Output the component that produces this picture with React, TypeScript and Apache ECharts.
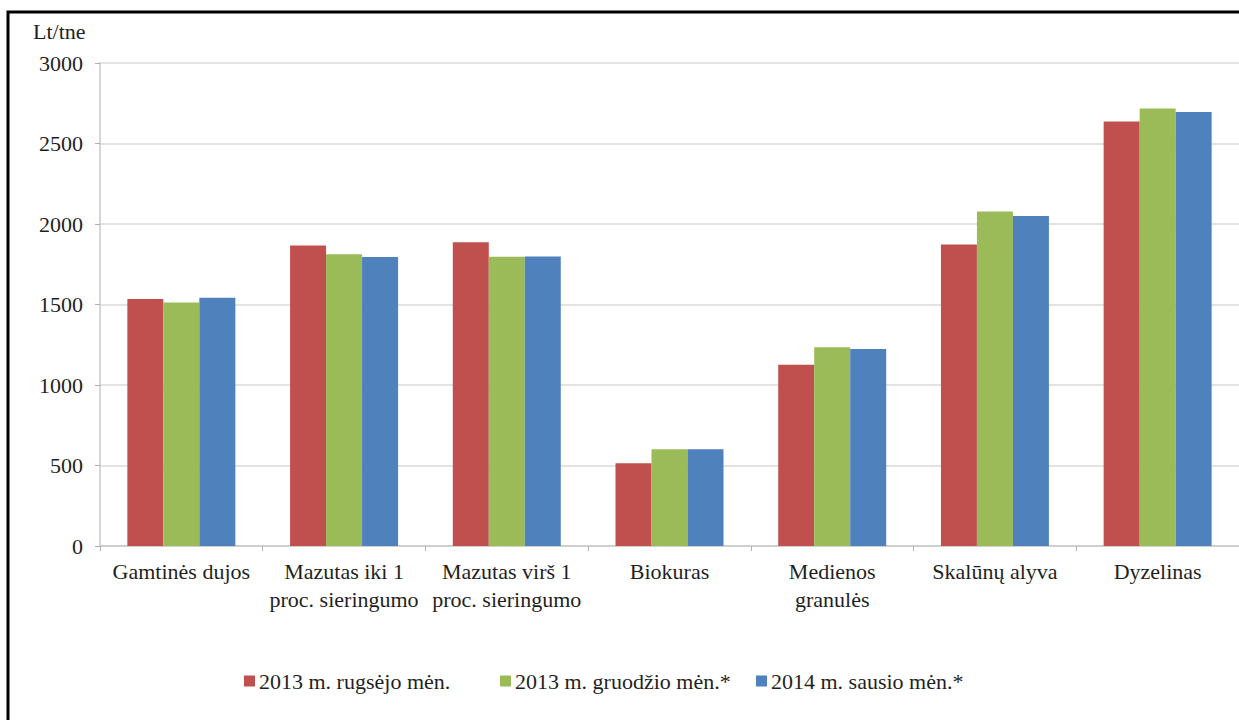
import React, { useEffect, useRef } from "react";
import * as echarts from "echarts";

// Fuel price categories (Lt per tonne of oil equivalent)
const categories = [
  "Gamtinės dujos",
  "Mazutas iki 1\nproc. sieringumo",
  "Mazutas virš 1\nproc. sieringumo",
  "Biokuras",
  "Medienos\ngranulės",
  "Skalūnų alyva",
  "Dyzelinas",
];

const seriesNames = [
  "2013 m. rugsėjo mėn.",
  "2013 m. gruodžio mėn.*",
  "2014 m. sausio mėn.*",
];

const sep2013 = [1534, 1866, 1886, 514, 1126, 1872, 2636];
const dec2013 = [1512, 1812, 1797, 601, 1234, 2077, 2718];
const jan2014 = [1542, 1795, 1798, 601, 1224, 2050, 2696];

const colors = ["#C0504D", "#9BBB59", "#4F81BD"];

const yMin = 0;
const yMax = 3000;
const yStep = 500;
const unitLabel = "Lt/tne";

const FONT = "Liberation Serif, Times New Roman, serif";
const TEXT_COLOR = "#1f1f1f";
const FONT_SIZE = 22;

// Legend entries sit in equal-width slots, one legend block per series
const LEGEND_LEFT = 244;
const LEGEND_SLOT = 256;

export default function App() {
  const ref = useRef<HTMLDivElement>(null);

  useEffect(() => {
    if (!ref.current) return;
    const chart = echarts.init(ref.current, null, { renderer: "svg" });
    const values = [sep2013, dec2013, jan2014];

    chart.setOption({
      animation: false,
      backgroundColor: "#ffffff",
      textStyle: { fontFamily: FONT },
      grid: { left: 100, right: -2, top: 63, bottom: 174, containLabel: false },
      legend: seriesNames.map((name, i) => ({
        left: LEGEND_LEFT + i * LEGEND_SLOT,
        top: 670,
        padding: 0,
        itemWidth: 11,
        itemHeight: 11,
        icon: "rect",
        textStyle: {
          fontFamily: FONT,
          fontSize: FONT_SIZE,
          color: TEXT_COLOR,
          padding: [0, 0, 0, -1],
        },
        data: [name],
      })),
      xAxis: {
        type: "category",
        data: categories,
        axisLine: { show: true, lineStyle: { color: "#c8c8c8", width: 1.5 } },
        axisTick: { show: true, length: 5, lineStyle: { color: "#b0b0b0" } },
        axisLabel: {
          interval: 0,
          margin: 11,
          fontFamily: FONT,
          fontSize: FONT_SIZE,
          lineHeight: 28,
          color: TEXT_COLOR,
        },
      },
      yAxis: {
        type: "value",
        min: yMin,
        max: yMax,
        interval: yStep,
        axisLine: { show: true, lineStyle: { color: "#c8c8c8", width: 1.5 } },
        axisTick: { show: true, length: 5, lineStyle: { color: "#b0b0b0" } },
        axisLabel: {
          margin: 17,
          fontFamily: FONT,
          fontSize: FONT_SIZE,
          color: TEXT_COLOR,
          formatter: (v: number) => String(v),
        },
        splitLine: { show: true, lineStyle: { color: "#dadada", width: 1.5 } },
      },
      graphic: [
        {
          type: "rect",
          shape: { x: 8, y: 12, width: 1400, height: 900 },
          style: { fill: "none", stroke: "#000000", lineWidth: 3 },
          silent: true,
          z: 100,
        },
        {
          type: "text",
          left: 33,
          top: 20,
          style: { text: unitLabel, fontFamily: FONT, fontSize: FONT_SIZE, fill: TEXT_COLOR },
        },
      ],
      series: seriesNames.map((name, i) => ({
        name,
        type: "bar",
        data: values[i],
        barWidth: 36,
        barGap: "0%",
        itemStyle: { color: colors[i] },
      })),
    });

    return () => chart.dispose();
  }, []);

  return (
    <div
      ref={ref}
      style={{ position: "fixed", left: 0, top: 0, width: 1239, height: 720, background: "#fff" }}
    />
  );
}
